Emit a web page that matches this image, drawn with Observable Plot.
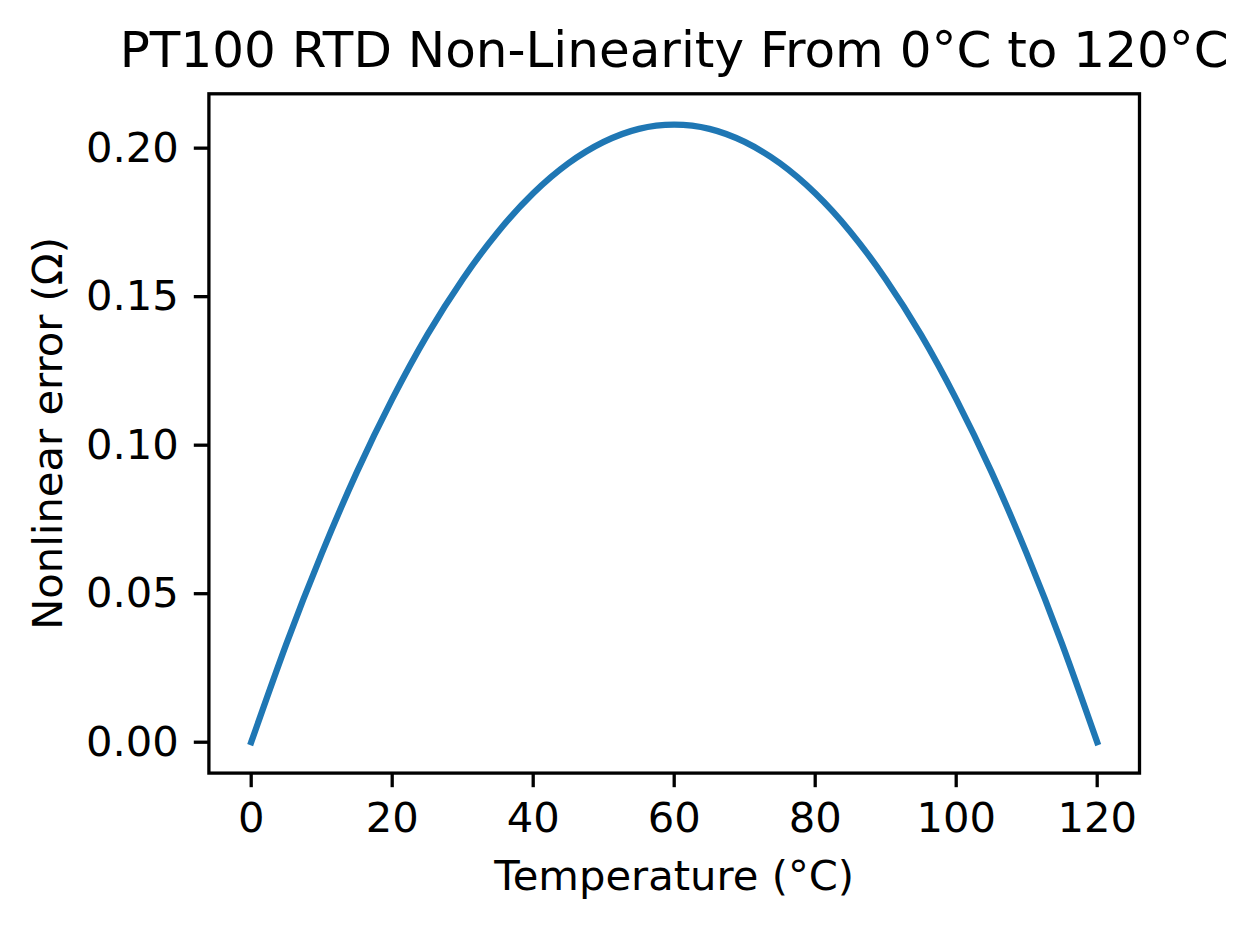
<!DOCTYPE html>
<html>
<head>
<meta charset="utf-8">
<script src="https://cdn.jsdelivr.net/npm/d3@7"></script>
<script src="https://cdn.jsdelivr.net/npm/@observablehq/plot@0.6"></script>
<style>
  html, body { margin: 0; padding: 0; background: white; }
  #chart { width: 1258px; height: 928px; }
</style>
</head>
<body>
<div id="chart"></div>
<script>
const titleText = "PT100 RTD Non-Linearity From 0°C to 120°C";
const xLabel = "Temperature (°C)";
const yLabel = "Nonlinear error (Ω)";

const temperatures = [0, 5, 10, 15, 20, 25, 30, 35, 40, 45, 50, 55, 60, 65, 70, 75, 80, 85, 90, 95, 100, 105, 110, 115, 120];
const errors = [0, 0.0332, 0.0635, 0.0910, 0.1155, 0.1372, 0.1559, 0.1718, 0.1848, 0.1949, 0.2021, 0.2065, 0.2079, 0.2065, 0.2021, 0.1949, 0.1848, 0.1718, 0.1559, 0.1372, 0.1155, 0.0910, 0.0635, 0.0332, 0];

const xTicks = [0, 20, 40, 60, 80, 100, 120];
const yTicks = [0, 0.05, 0.10, 0.15, 0.20];

const data = temperatures.map((t, i) => ({t, e: errors[i]}));

const chart = Plot.plot({
  width: 1258,
  height: 928,
  marginLeft: 208.4,
  marginRight: 119,
  marginTop: 93.3,
  marginBottom: 155.4,
  style: {fontFamily: "DejaVu Sans", fontSize: "41.7px", color: "black", background: "white"},
  x: {domain: [-6, 126]},
  y: {domain: [-0.0104, 0.2183]},
  marks: [
    Plot.line(data, {x: "t", y: "e", stroke: "#1f77b4", strokeWidth: 6.25, curve: "natural", strokeLinecap: "square"}),
    Plot.frame({stroke: "black", strokeWidth: 3.3}),
    Plot.axisX({ticks: xTicks, tickSize: 14.6, tickPadding: 15, fontSize: 41.7, strokeWidth: 3.3, label: null, tickFormat: d3.format("d")}),
    Plot.axisY({ticks: yTicks, tickSize: 14.6, tickPadding: 15.5, fontSize: 41.7, strokeWidth: 3.3, label: null, tickFormat: d3.format(".2f")}),
    Plot.text([titleText], {text: d => d, frameAnchor: "top", lineAnchor: "bottom", dy: -26.6, fontSize: 50, fill: "black"}),
    Plot.text([xLabel], {text: d => d, frameAnchor: "bottom", lineAnchor: "bottom", dy: 116.4, fontSize: 41.7, fill: "black"}),
    Plot.text([yLabel], {text: d => d, frameAnchor: "left", rotate: -90, textAnchor: "middle", lineAnchor: "bottom", dx: -147.4, fontSize: 41.7, fill: "black"})
  ]
});
document.getElementById("chart").appendChild(chart);
</script>
</body>
</html>
